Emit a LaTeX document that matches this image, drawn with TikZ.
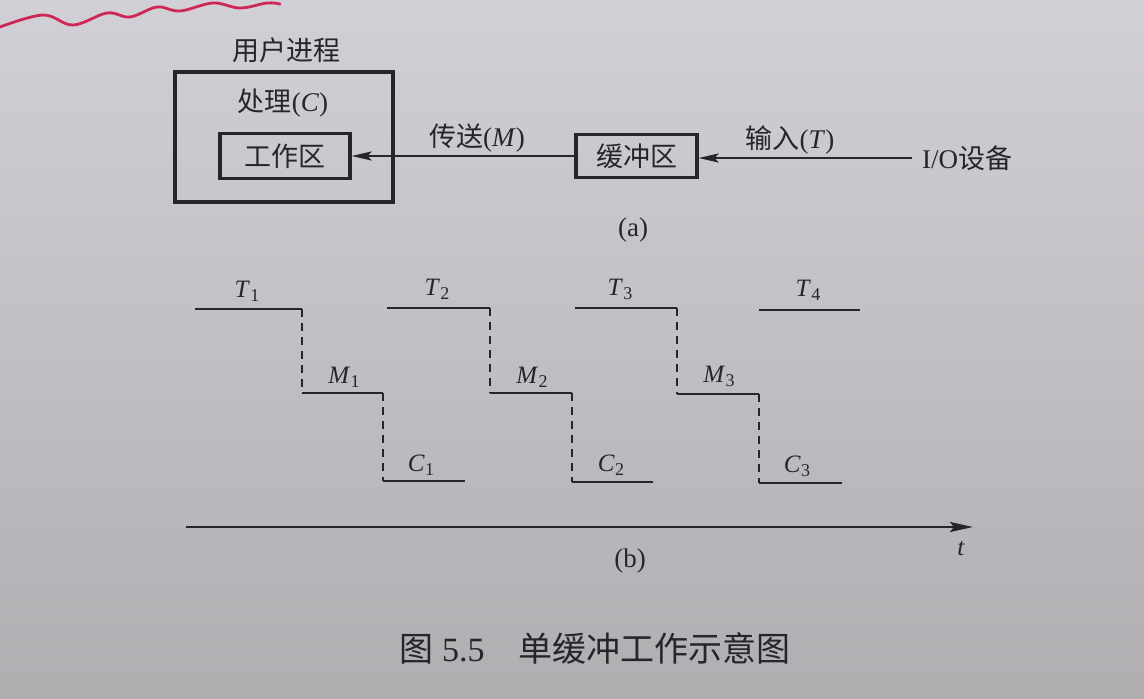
\documentclass[tikz,border=0pt]{standalone}
\usepackage{fontspec}
\setmainfont{Liberation Serif}
\newfontfamily\cjk{Noto Sans CJK SC}
\usetikzlibrary{arrows.meta}
\definecolor{ink}{RGB}{38,37,42}
\definecolor{paperTop}{RGB}{210,208,215}
\definecolor{paperBot}{RGB}{176,174,177}
\definecolor{penred}{RGB}{205,40,85}
\newcommand\lab[2]{\textit{#1}\kern0.5pt\raisebox{-0.35ex}{\fontsize{18}{20}\selectfont #2}}
\begin{document}
\begin{tikzpicture}[x=1pt,y=-1pt,
  box/.style={draw=ink, line width=3.2pt, inner sep=0pt},
  lbl/.style={text=ink, font=\fontsize{27}{30}\selectfont, inner sep=0pt},
  flow/.style={draw=ink, line width=2.4pt, -{Stealth[length=20pt,width=9pt,inset=4pt]}},
  axisline/.style={draw=ink, line width=2.6pt, -{Stealth[length=23pt,width=10pt,inset=4pt]}},
  seg/.style={draw=ink, line width=2.4pt},
  dsh/.style={draw=ink, line width=2pt, dash pattern=on 8pt off 6pt},
  tl/.style={text=ink, font=\fontsize{25}{28}\selectfont, inner sep=0pt, anchor=base}]
\shade[top color=paperTop, bottom color=paperBot] (0,0) rectangle (1144,699);
\useasboundingbox (0,0) rectangle (1144,699);

% red pen mark
\draw[penred, line width=2.8pt, line cap=round] plot[smooth, tension=0.6] coordinates
  {(0,27) (43,15) (73,25) (107,13) (130,17) (157,7) (180,11) (213,3) (240,8) (267,3) (280,4)};

% (a)
\node[box, minimum width=218pt, minimum height=130pt] (proc) at (284,137) {};
\node[lbl] (title) at (286,50) {\cjk 用户进程};
\node[lbl] (proclab) at (283,103) {{\cjk 处理}(\textit{C})};
\node[box, lbl, minimum width=130pt, minimum height=45pt] (work) at (285,156) {\cjk 工作区};
\node[box, lbl, minimum width=121pt, minimum height=43pt] (buf) at (636.5,156) {\cjk 缓冲区};
\node[lbl, anchor=west, inner xsep=10pt] (io) at (912,158) {I/O{\cjk 设备}};
\draw[flow] (io.west) -- (io.west -| buf.east);
\draw[flow] (buf.west) -- (work.east);
\node[lbl] (mlab) at (477,138) {{\cjk 传送}(\textit{M})};
\node[lbl] (tinlab) at (790,140) {{\cjk 输入}(\textit{T})};
\node[lbl] (a) at (633,230) {(a)};

% (b) timing
\draw[seg] (195,309) -- (302,309);
\draw[dsh] (302,309) -- (302,393);
\draw[seg] (302,393) -- (383,393);
\draw[dsh] (383,393) -- (383,481);
\draw[seg] (383,481) -- (465,481);

\draw[seg] (387,308) -- (490,308);
\draw[dsh] (490,308) -- (490,393);
\draw[seg] (490,393) -- (572,393);
\draw[dsh] (572,393) -- (572,482);
\draw[seg] (572,482) -- (653,482);

\draw[seg] (575,308) -- (677,308);
\draw[dsh] (677,308) -- (677,394);
\draw[seg] (677,394) -- (759,394);
\draw[dsh] (759,394) -- (759,483);
\draw[seg] (759,483) -- (842,483);

\draw[seg] (759,310) -- (860,310);

\node[tl] (T1) at (247,297) {\lab{T}{1}};
\node[tl] (T2) at (437,295) {\lab{T}{2}};
\node[tl] (T3) at (620,295) {\lab{T}{3}};
\node[tl] (T4) at (808,296) {\lab{T}{4}};
\node[tl] (M1) at (344,383) {\lab{M}{1}};
\node[tl] (M2) at (532,383) {\lab{M}{2}};
\node[tl] (M3) at (719,382) {\lab{M}{3}};
\node[tl] (C1) at (421,471) {\lab{C}{1}};
\node[tl] (C2) at (611,471) {\lab{C}{2}};
\node[tl] (C3) at (797,472) {\lab{C}{3}};

\coordinate (ax0) at (186,527);
\coordinate (ax1) at (973,527);
\draw[axisline] (ax0) -- (ax1);
\node[tl] (tlab) at (961,555) {\textit{t}};
\node[lbl] (b) at (630,561) {(b)};

\node[text=ink, font=\fontsize{34}{38}\selectfont, inner sep=0pt] (cap) at (595,648)
  {{\cjk 图} 5.5\hspace{1em}{\cjk 单缓冲工作示意图}};
\end{tikzpicture}
\end{document}
